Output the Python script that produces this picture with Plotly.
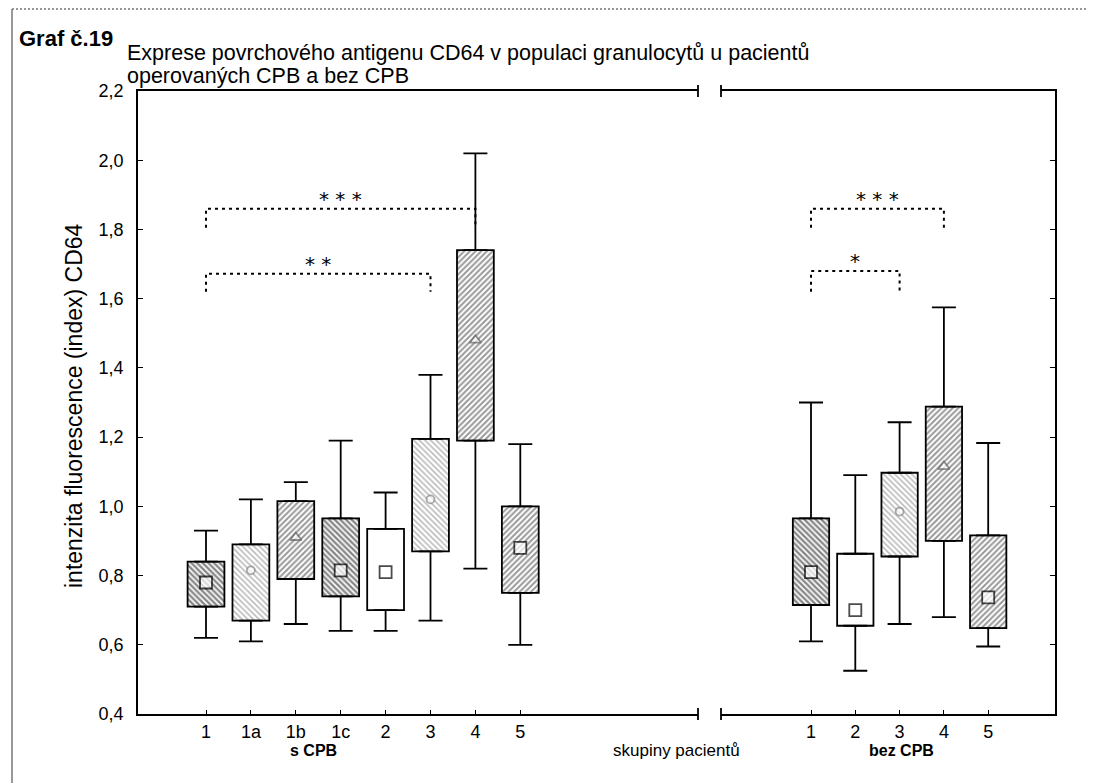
import plotly.graph_objects as go

W, H = 1094, 783
L, R, T, B = 130, 1047, 83, 706        # plot area in px
BREAK_L, BREAK_R = 690, 713

# ---------------- data ----------------
left_labels = ["1", "1a", "1b", "1c", "2", "3", "4", "5"]
left_low  = [0.62, 0.61, 0.66, 0.64, 0.64, 0.67, 0.82, 0.60]
left_q1   = [0.71, 0.67, 0.79, 0.74, 0.70, 0.87, 1.19, 0.75]
left_mid  = [0.78, 0.815, 0.91, 0.815, 0.81, 1.02, 1.48, 0.88]
left_q3   = [0.84, 0.89, 1.015, 0.965, 0.935, 1.195, 1.74, 1.00]
left_high = [0.93, 1.02, 1.07, 1.19, 1.04, 1.38, 2.02, 1.18]

right_labels = ["1", "2", "3", "4", "5"]
right_low  = [0.61, 0.525, 0.66, 0.68, 0.595]
right_q1   = [0.715, 0.655, 0.855, 0.90, 0.648]
right_mid  = [0.81, 0.70, 0.985, 1.115, 0.737]
right_q3   = [0.965, 0.863, 1.097, 1.288, 0.916]
right_high = [1.30, 1.09, 1.243, 1.575, 1.183]

# significance brackets: (from index, to index, level, leg end, label)
left_brackets  = [(0, 6, 1.86, 1.805, "***"), (0, 5, 1.672, 1.62, "**")]
right_brackets = [(0, 3, 1.86, 1.805, "***"), (0, 2, 1.68, 1.62, "*")]

y_ticks = [0.4, 0.6, 0.8, 1.0, 1.2, 1.4, 1.6, 1.8, 2.0, 2.2]

# ---------------- styles ----------------
left_fill  = ["dark", "light", "medium", "dark", "white", "light", "medium", "medium"]
right_fill = ["dark", "white", "light", "medium", "medium"]
left_sym  = ["square", "circle", "triangle-up", "square", "square", "circle", "triangle-up", "square"]
right_sym = ["square", "square", "circle", "triangle-up", "square"]

PAT = {
    "dark":   dict(shape="\\", fg="#111111", size=4, sol=0.6),
    "light":  dict(shape="\\", fg="#777777", size=4, sol=0.4),
    "medium": dict(shape="/",  fg="#333333", size=4, sol=0.5),
    "white":  dict(shape="",   fg="#000000", size=4, sol=0.3),
}
SYM_LINE = {"square": "#000000", "circle": "#888888", "triangle-up": "#666666"}
SYM_SIZE = {"square": 12, "circle": 8, "triangle-up": 10}

FONT = "Liberation Sans, Arial, sans-serif"
BOX_W = 0.82

pw, ph = R - L, B - T
def px_x(p): return (p - L) / pw
def px_y(p): return 1 - (p - T) / ph

fig = go.Figure()

def add_group(xa, ya, labels, low, q1, mid, q3, high, fills, syms, brackets):
    xs = list(range(len(labels)))
    fig.add_trace(go.Bar(
        x=xs, y=[b - a for a, b in zip(q1, q3)], base=q1, width=BOX_W,
        xaxis=xa, yaxis=ya, showlegend=False, hoverinfo="skip",
        marker=dict(
            color="white",
            line=dict(color="black", width=1.8),
            pattern=dict(
                shape=[PAT[f]["shape"] for f in fills],
                fgcolor=[PAT[f]["fg"] for f in fills],
                bgcolor="white",
                size=[PAT[f]["size"] for f in fills],
                solidity=[PAT[f]["sol"] for f in fills],
                fillmode="overlay",
            ),
        ),
    ))
    # upper whiskers
    fig.add_trace(go.Scatter(
        x=xs, y=q3, mode="markers", xaxis=xa, yaxis=ya, showlegend=False,
        marker=dict(size=1, opacity=0),
        error_y=dict(type="data", symmetric=False,
                     array=[h - q for h, q in zip(high, q3)],
                     arrayminus=[0] * len(xs),
                     width=12, thickness=1.8, color="black"),
    ))
    # lower whiskers
    fig.add_trace(go.Scatter(
        x=xs, y=q1, mode="markers", xaxis=xa, yaxis=ya, showlegend=False,
        marker=dict(size=1, opacity=0),
        error_y=dict(type="data", symmetric=False,
                     array=[0] * len(xs),
                     arrayminus=[q - l for q, l in zip(q1, low)],
                     width=12, thickness=1.8, color="black"),
    ))
    # centre markers
    fig.add_trace(go.Scatter(
        x=xs, y=mid, mode="markers", xaxis=xa, yaxis=ya, showlegend=False,
        marker=dict(symbol=syms, color="white",
                    size=[SYM_SIZE[s] for s in syms],
                    line=dict(color=[SYM_LINE[s] for s in syms], width=1.8)),
    ))
    # brackets
    for a, b, lev, leg, txt in brackets:
        fig.add_trace(go.Scatter(
            x=[a, a, b, b], y=[leg, lev, lev, leg], mode="lines",
            xaxis=xa, yaxis=ya, showlegend=False, hoverinfo="skip",
            line=dict(color="black", width=2, dash="3px,4px"),
        ))
        fig.add_annotation(x=(a + b) / 2, y=lev, xref=xa, yref=ya,
                           text=" ".join(txt), showarrow=False, yanchor="bottom", yshift=-4,
                           font=dict(family="DejaVu Sans, Liberation Sans", size=20, color="black"))

add_group("x", "y", left_labels, left_low, left_q1, left_mid, left_q3, left_high,
          left_fill, left_sym, left_brackets)
add_group("x2", "y2", right_labels, right_low, right_q1, right_mid, right_q3, right_high,
          right_fill, right_sym, right_brackets)

# axis geometry (px of the first box and spacing)
left_first, left_step = 198, 44.9
right_first, right_step = 803, 44.3
x1_range = [-(left_first - L) / left_step, -(left_first - L) / left_step + (BREAK_L - L) / left_step]
x2_range = [-(right_first - BREAK_R) / right_step,
            -(right_first - BREAK_R) / right_step + (R - BREAK_R) / right_step]

axis_common = dict(showline=True, linecolor="black", linewidth=1.8, showgrid=False,
                   zeroline=False, ticks="inside", tickcolor="black",
                   tickfont=dict(family=FONT, size=18, color="black"))

fig.update_layout(
    width=W, height=H,
    margin=dict(l=L, r=W - R, t=T, b=H - B),
    paper_bgcolor="white", plot_bgcolor="white",
    separators=", ",
    barmode="overlay",
    showlegend=False,
    xaxis=dict(domain=[0, px_x(BREAK_L)], range=x1_range, anchor="y",
               tickvals=list(range(len(left_labels))), ticktext=left_labels,
               mirror=True, ticklen=4, **axis_common),
    xaxis2=dict(domain=[px_x(BREAK_R), 1], range=x2_range, anchor="y2",
                tickvals=list(range(len(right_labels))), ticktext=right_labels,
                mirror=True, ticklen=4, **axis_common),
    yaxis=dict(range=[0.4, 2.2], tickvals=y_ticks, tickformat=".1f", anchor="x",
               ticklen=5, ticklabelstandoff=9, **axis_common),
    yaxis2=dict(range=[0.4, 2.2], tickvals=y_ticks, anchor="x2", side="right",
                showticklabels=False, matches="y", ticklen=5, **axis_common),
)

# break marks at the ends of the axis segments
for xr, xv in (("x domain", 1), ("x2 domain", 0)):
    for yv in (0, 1):
        fig.add_shape(type="line", xref=xr, yref="paper", x0=xv, x1=xv,
                      y0=yv - 6 / ph, y1=yv + 6 / ph, line=dict(color="black", width=1.8))

# outer page frame (left and top edges of the scanned page)
fig.add_shape(type="line", xref="paper", yref="paper",
              x0=px_x(4), x1=px_x(4), y0=px_y(782), y1=px_y(1),
              line=dict(color="#777777", width=1.5))
fig.add_shape(type="line", xref="paper", yref="paper",
              x0=px_x(4), x1=px_x(1093), y0=px_y(1), y1=px_y(1),
              line=dict(color="#777777", width=1.5, dash="2px,2px"))

# titles and axis captions
ann = dict(showarrow=False, xref="paper", yref="paper")
fig.add_annotation(x=px_x(9), y=px_y(31), text="<b>Graf č.19</b>", xanchor="left", yanchor="middle",
                   font=dict(family=FONT, size=22, color="black"), **ann)
fig.add_annotation(x=px_x(117), y=px_y(45), text="Exprese povrchového antigenu CD64 v populaci granulocytů u pacientů",
                   xanchor="left", yanchor="middle", font=dict(family=FONT, size=21.5, color="black"), **ann)
fig.add_annotation(x=px_x(117), y=px_y(68), text="operovaných CPB a bez CPB",
                   xanchor="left", yanchor="middle", font=dict(family=FONT, size=21.5, color="black"), **ann)
fig.add_annotation(x=px_x(66), y=px_y(398), text="intenzita fluorescence (index) CD64", textangle=-90,
                   xanchor="center", yanchor="middle", font=dict(family=FONT, size=23, color="black"), **ann)
fig.add_annotation(x=px_x(305), y=px_y(742), text="<b>s CPB</b>", xanchor="center", yanchor="middle",
                   font=dict(family=FONT, size=16, color="black"), **ann)
fig.add_annotation(x=px_x(668), y=px_y(742), text="skupiny pacientů", xanchor="center", yanchor="middle",
                   font=dict(family=FONT, size=17, color="black"), **ann)
fig.add_annotation(x=px_x(893), y=px_y(742), text="<b>bez CPB</b>", xanchor="center", yanchor="middle",
                   font=dict(family=FONT, size=16, color="black"), **ann)

fig.write_html("out.html")
